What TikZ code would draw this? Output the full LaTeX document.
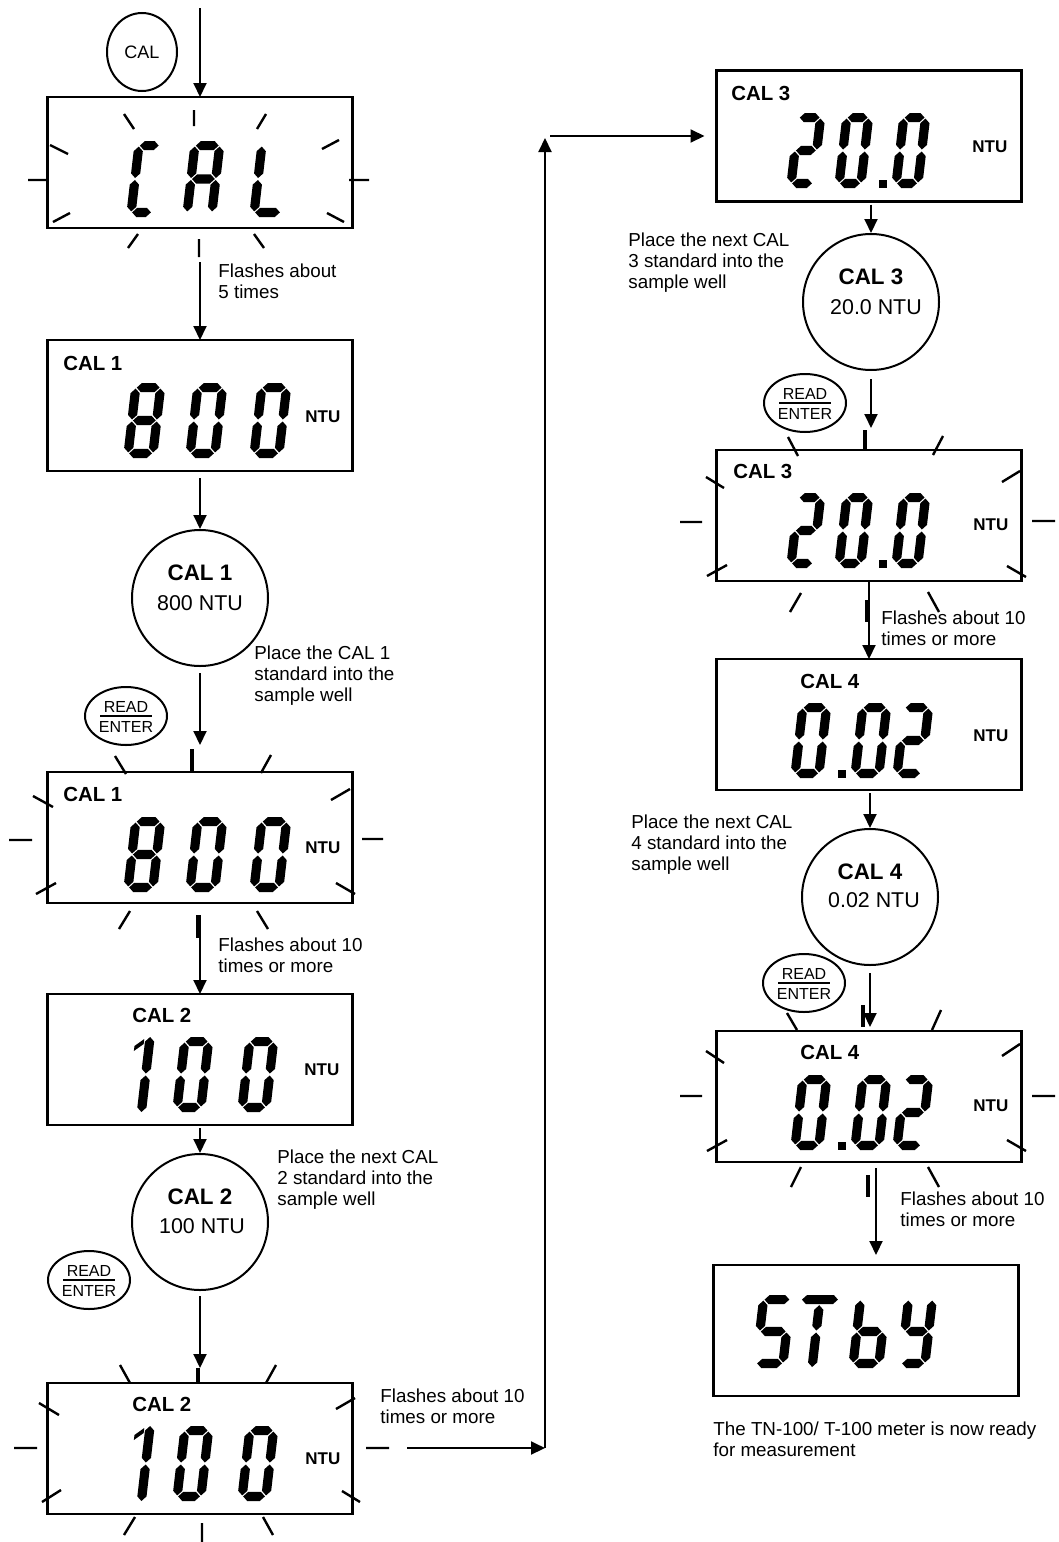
\documentclass[tikz,border=0pt]{standalone}
\usepackage{fontspec}
\setmainfont{Liberation Sans}
\usetikzlibrary{arrows.meta,calc,shapes.geometric}

\def\lcdh{4.6}\def\lcdg{1.0}
\newcommand\lcdsegH[3]{\fill ({#1},{#3}) -- ({#1+\lcdh},{#3+\lcdh}) -- ({#2-\lcdh},{#3+\lcdh}) -- ({#2},{#3}) -- ({#2-\lcdh},{#3-\lcdh}) -- ({#1+\lcdh},{#3-\lcdh}) -- cycle;}
\newcommand\lcdsegV[3]{\fill ({#1},{#2}) -- ({#1+\lcdh},{#2+\lcdh}) -- ({#1+\lcdh},{#3-\lcdh}) -- ({#1},{#3}) -- ({#1-\lcdh},{#3-\lcdh}) -- ({#1-\lcdh},{#2+\lcdh}) -- cycle;}
\newcommand\lcdA{\lcdsegH{\lcdh+\lcdg}{\dW-\lcdh-\lcdg}{\dH-\lcdh}}
\newcommand\lcdB{\lcdsegV{\dW-\lcdh}{\dH/2+\lcdg}{\dH-\lcdh-\lcdg}}
\newcommand\lcdC{\lcdsegV{\dW-\lcdh}{\lcdh+\lcdg}{\dH/2-\lcdg}}
\newcommand\lcdD{\lcdsegH{\lcdh+\lcdg}{\dW-\lcdh-\lcdg}{\lcdh}}
\newcommand\lcdE{\lcdsegV{\lcdh}{\lcdh+\lcdg}{\dH/2-\lcdg}}
\newcommand\lcdF{\lcdsegV{\lcdh}{\dH/2+\lcdg}{\dH-\lcdh-\lcdg}}
\newcommand\lcdG{\lcdsegH{\lcdh+\lcdg}{\dW-\lcdh-\lcdg}{\dH/2}}
% "1"
\newcommand\lcdP{\lcdsegV{\dW-\lcdh}{\dH/2+\lcdg}{\dH}}
\newcommand\lcdQ{\lcdsegV{\dW-\lcdh}{0}{\dH/2-\lcdg}}
\newcommand\lcdR{\fill ({\dW-2*\lcdh-1},{\dH-2}) -- ({\dW-2*\lcdh-10},{\dH-9}) -- ({\dW-2*\lcdh-10},{\dH-14}) -- ({\dW-2*\lcdh-1},{\dH-7}) -- cycle;}
% "T"
\newcommand\lcdT{\lcdsegH{\lcdg}{\dW-\lcdg}{\dH-\lcdh}}
\newcommand\lcdU{\lcdsegV{\dW/2}{\dH/2+\lcdg}{\dH-2*\lcdh-\lcdg}}
\newcommand\lcdL{\lcdsegV{\dW/2}{1}{\dH/2-\lcdg}}

\newcommand\lcddigit[5]{\begin{scope}[shift={(#1,#2)},x={(0.5pt,0pt)},y={(0.058pt,0.5pt)}]%
\pgfmathsetmacro\dW{#3}\pgfmathsetmacro\dH{#4}%
\foreach \sgname in {#5}{\csname lcd\sgname\endcsname}%
\end{scope}}

\begin{document}
\begin{tikzpicture}[x=0.5pt,y=-0.5pt,
  lcd/.style={draw,line width=1.3pt,minimum width=152.5pt,minimum height=65.5pt,inner sep=0pt,outer sep=0pt},
  disc/.style={circle,draw,line width=1pt,minimum size=68pt,inner sep=0pt},
  btn/.style={ellipse,draw,line width=1pt,minimum width=41pt,minimum height=29pt,inner sep=0pt},
  arr/.style={line width=1pt,-{Triangle[width=6.5pt,length=7pt]}},
  ray/.style={line width=1.2pt},
  bray/.style={line width=2pt},
  lbl/.style={font=\bfseries\fontsize{10.2}{12}\selectfont,inner sep=0pt,anchor=west},
  ntu/.style={font=\bfseries\fontsize{8.5}{10}\selectfont,inner sep=0pt,anchor=west},
  note/.style={font=\fontsize{9.4}{10.5}\selectfont,align=left,inner sep=0pt,anchor=west},
  ctit/.style={font=\bfseries\fontsize{11.2}{13}\selectfont,inner sep=0pt},
  cval/.style={font=\fontsize{10.7}{13}\selectfont,inner sep=0pt},
  btxt/.style={font=\fontsize{8}{9}\selectfont,inner sep=0pt}]

\fill[white] (0,0) rectangle (1059,1542);
\useasboundingbox (0,0) rectangle (1059,1542);

% ---------------- left column ----------------
\node[ellipse,draw,line width=1pt,minimum width=35pt,minimum height=39pt,inner sep=0pt,font=\fontsize{9}{10}\selectfont] (calbtn) at (142,52) {CAL};

\node[lcd] (b0) at (200,162.5) {};
\node[lcd] (b1) at (200,405.5) {};
\node[disc] (c1) at (200,598) {};
\node[btn] (k1) at (126,716) {};
\node[lcd] (b2) at (200,837.5) {};
\node[lcd] (b3) at (200,1059.5) {};
\node[disc] (c2) at (200,1222) {};
\node[btn] (k2) at (89,1280) {};
\node[lcd] (b4) at (200,1448.5) {};

% ---------------- right column ----------------
\node[lcd] (d0) at (869,136) {};
\node[disc] (c3) at (871,302) {};
\node[btn] (k3) at (805,403) {};
\node[lcd] (d1) at (869,515.5) {};
\node[lcd] (d2) at (869,724.5) {};
\node[disc] (c4) at (870,897) {};
\node[btn] (k4) at (804,983) {};
\node[lcd] (d3) at (869,1096.5) {};
\node[lcd] (d4) at (866,1330.5) {};

% ---------- digits ----------
% CAL
\lcddigit{126}{217}{30}{76}{A,D,E,F}
\lcddigit{182}{217}{34}{76}{A,B,C,E,F,G}
\lcddigit{249}{217}{36}{76}{D,E,F}
% 800
\foreach \yy in {458,892}{
  \lcddigit{123}{\yy}{34}{75}{A,B,C,D,E,F,G}
  \lcddigit{185}{\yy}{34}{75}{A,B,C,D,E,F}
  \lcddigit{249}{\yy}{34}{75}{A,B,C,D,E,F}
}
% 100
\foreach \yy in {1112,1501}{
  \lcddigit{113}{\yy}{33}{75}{P,Q,R}
  \lcddigit{172}{\yy}{33}{75}{A,B,C,D,E,F}
  \lcddigit{237}{\yy}{33}{75}{A,B,C,D,E,F}
}
% 20.0
\foreach \yy in {188,568}{
  \lcddigit{786}{\yy}{31}{75}{A,B,G,E,D}
  \lcddigit{834}{\yy}{31}{75}{A,B,C,D,E,F}
  \fill (879,\yy-8) rectangle (887,\yy);
  \lcddigit{891}{\yy}{31}{75}{A,B,C,D,E,F}
}
% 0.02
\foreach \yy in {778,1150}{
  \lcddigit{790}{\yy}{33}{75}{A,B,C,D,E,F}
  \fill (838,\yy-8) rectangle (846,\yy);
  \lcddigit{850}{\yy}{33}{75}{A,B,C,D,E,F}
  \lcddigit{892}{\yy}{33}{75}{A,B,G,E,D}
}
% STbY
\lcddigit{751}{1368}{36}{73}{A,F,G,C,D}
\lcddigit{793}{1368}{38}{73}{T,U,L}
\lcddigit{848}{1368}{35}{73}{F,E,G,C,D}
\lcddigit{896}{1368}{33}{73}{F,B,G,C,D}

% ---------- box labels ----------
\node[lbl] (l1) at (63,363) {CAL 1};
\node[ntu] (n1) at (305,417) {NTU};
\node[lbl] (l2) at (63,794) {CAL 1};
\node[ntu] (n2) at (305,848) {NTU};
\node[lbl] (l3) at (132,1015) {CAL 2};
\node[ntu] (n3) at (304,1070) {NTU};
\node[lbl] (l4) at (132,1404) {CAL 2};
\node[ntu] (n4) at (305,1459) {NTU};
\node[lbl] (l5) at (731,93) {CAL 3};
\node[ntu] (n5) at (972,147) {NTU};
\node[lbl] (l6) at (733,471) {CAL 3};
\node[ntu] (n6) at (973,525) {NTU};
\node[lbl] (l7) at (800,681) {CAL 4};
\node[ntu] (n7) at (973,736) {NTU};
\node[lbl] (l8) at (800,1052) {CAL 4};
\node[ntu] (n8) at (973,1106) {NTU};

% ---------- circle texts ----------
\node[ctit] (c1t) at (200,573) {CAL 1};
\node[cval] (c1v) at (200,603) {800 NTU};
\node[ctit] (c2t) at (200,1197) {CAL 2};
\node[cval] (c2v) at (202,1226) {100 NTU};
\node[ctit] (c3t) at (871,277) {CAL 3};
\node[cval] (c3v) at (876,307) {20.0 NTU};
\node[ctit] (c4t) at (870,872) {CAL 4};
\node[cval] (c4v) at (874,900) {0.02 NTU};

% ---------- READ / ENTER buttons ----------
\foreach \bt in {k1,k2,k3,k4}{
  \node[btxt] (\bt-read) at ($(\bt.center)+(0,-9)$) {READ};
  \node[btxt] (\bt-enter) at ($(\bt.center)+(0,11)$) {ENTER};
  \draw[line width=1pt] ($(\bt.center)+(-26,0)$) -- ($(\bt.center)+(26,0)$);
}

% ---------- notes ----------
\node[note] (t1) at (218,281) {Flashes about\\5 times};
\node[note] (t2) at (254,676) {Place the CAL 1\\standard into the\\sample well};
\node[note] (t3) at (218,955) {Flashes about 10\\times or more};
\node[note] (t4) at (277,1180) {Place the next CAL\\2 standard into the\\sample well};
\node[note] (t5) at (380,1406) {Flashes about 10\\times or more};
\node[note] (t6) at (628,263) {Place the next CAL\\3 standard into the\\sample well};
\node[note] (t7) at (881,628) {Flashes about 10\\times or more};
\node[note] (t8) at (631,845) {Place the next CAL\\4 standard into the\\sample well};
\node[note] (t9) at (900,1209) {Flashes about 10\\times or more};
\node[note] (t10) at (713,1439) {The TN-100/ T-100 meter is now ready\\for measurement};

% ---------- connectors ----------
\coordinate (top) at (200,8);
\draw[arr] (top) -- (b0.north);
\draw[arr] ($(b0.south)+(0,34)$) -- (b1.north);
\draw[arr] ($(b1.south)+(0,7)$) -- (c1.north);
\draw[arr] ($(c1.south)+(0,6)$) -- ($(b2.north)+(0,-27)$);
\draw[arr] ($(b2.south)+(0,12)$) -- (b3.north);
\draw[arr] ($(b3.south)+(0,3)$) -- (c2.north);
\draw[arr] ($(c2.south)+(0,5)$) -- ($(b4.north)+(0,-15)$);
\coordinate (hstart) at (407,1448);
\coordinate (turn) at (545,1448);
\coordinate (upend) at (545,138);
\coordinate (hstart2) at (550,136);
\draw[arr] (hstart) -- (turn);
\draw[arr] (turn) -- (upend);
\draw[arr] (hstart2) -- ($(d0.west)+(-12,0)$);
\draw[arr] ($(c3.north |- d0.south)+(0,3)$) -- (c3.north);
\draw[arr] ($(c3.south)+(0,8)$) -- ($(c3.south |- d1.north)+(0,-22)$);
\draw[arr] (d1.south) -- (d2.north);
\draw[arr] ($(c4.north |- d2.south)+(0,3)$) -- (c4.north);
\draw[arr] ($(c4.south)+(0,7)$) -- ($(c4.south |- d3.north)+(0,-4)$);
\coordinate (a14s) at ($(d3.south)+(7,6)$);
\draw[arr] (a14s) -- ($(a14s |- d4.north)+(0,-10)$);

% ---------- flash rays ----------
% b0
\draw[ray] (124,114)--(134,129) (194,110)--(194,126) (266,114)--(257,129)
  (50,145)--(68,154) (28,180)--(47,180) (53,222)--(70,213)
  (322,149)--(339,140) (349,180)--(369,180) (327,213)--(344,222)
  (128,248)--(138,234) (199,239)--(199,257) (254,234)--(264,248);
% b2
\draw[ray] (115,756)--(126,774) (271,755)--(261,773)
  (33,796)--(53,807) (9,840)--(32,840) (36,894)--(56,883)
  (331,800)--(350,789) (362,839)--(383,839) (336,883)--(355,894)
  (119,929)--(130,911) (257,911)--(268,929);
\draw[bray] (192,749)--(192,772) (197.5,915)--(197.5,938);
% b4
\draw[ray] (120,1365)--(130,1383) (276,1365)--(266,1383)
  (39,1403)--(59,1415) (14,1448)--(37,1448) (42,1502)--(61,1490)
  (336,1409)--(355,1398) (366,1448)--(389,1448) (342,1491)--(360,1502)
  (124,1535)--(135,1517) (202,1523)--(202,1542) (263,1517)--(273,1535);
\draw[bray] (197.5,1368)--(197.5,1383);
% d1
\draw[ray] (788,437)--(798,456) (943,436)--(933,455)
  (706,477)--(724,488) (680,522)--(702,522) (707,576)--(727,565)
  (1002,482)--(1020,471) (1032,521)--(1055,521) (1007,566)--(1026,577)
  (790,612)--(801,593) (928,592)--(939,612);
\draw[bray] (865,430)--(865,450) (867,600)--(867,622);
% d3
\draw[ray] (787,1013)--(797,1030) (941,1010)--(932,1030)
  (706,1051)--(724,1063) (680,1096)--(702,1096) (707,1151)--(727,1140)
  (1002,1056)--(1020,1044) (1032,1096)--(1055,1096) (1007,1140)--(1026,1151)
  (791,1187)--(801,1167) (928,1167)--(939,1187);
\draw[bray] (863,1005)--(863,1027) (868,1175)--(868,1197);

\end{tikzpicture}
\end{document}
